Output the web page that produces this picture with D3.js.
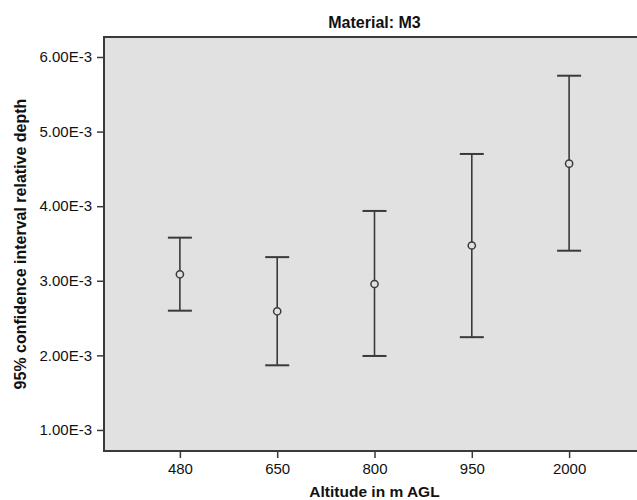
<!DOCTYPE html>
<html>
<head>
<meta charset="utf-8">
<script src="https://cdn.jsdelivr.net/npm/d3@7"></script>
<style>
  body { margin: 0; background: #fff; }
  svg { display: block; font-family: "Liberation Sans", Arial, sans-serif; }
</style>
</head>
<body>
<svg id="chart" width="637" height="500"></svg>
<script>
// Material M3 -- 95% CI of relative depth by altitude

var altitudes = ["480", "650", "800", "950", "2000"];
var means = [3.087e-3, 2.591e-3, 2.957e-3, 3.473e-3, 4.570e-3];
var lower = [2.599e-3, 1.867e-3, 1.992e-3, 2.244e-3, 3.403e-3];
var upper = [3.578e-3, 3.317e-3, 3.936e-3, 4.700e-3, 5.749e-3];
var yTicks = [1e-3, 2e-3, 3e-3, 4e-3, 5e-3, 6e-3];

var svg = d3.select("#chart");
// note: "top" is taken by window.top, so keep the box in one object
var plot = { left: 104, right: 645, top: 37, bottom: 451 };

var x = d3.scalePoint()
  .domain(altitudes)
  .range([plot.left, plot.right])
  .padding(0.78);

var y = d3.scaleLinear()
  .domain([0.718e-3, 6.268e-3])
  .range([plot.bottom, plot.top]);

// plot background
svg.append("rect")
  .attr("x", plot.left)
  .attr("y", plot.top)
  .attr("width", plot.right - plot.left)
  .attr("height", plot.bottom - plot.top)
  .attr("fill", "#e1e1e1")
  .attr("stroke", "#3a3a3a")
  .attr("stroke-width", 2);

// axes
var yAxis = svg.append("g")
  .attr("transform", "translate(" + plot.left + ",0)")
  .call(d3.axisLeft(y).tickValues(yTicks).tickSize(7).tickPadding(5)
    .tickFormat(function (d) { return (d * 1000).toFixed(2) + "E-3"; }));

var xAxis = svg.append("g")
  .attr("transform", "translate(0," + plot.bottom + ")")
  .call(d3.axisBottom(x).tickSize(7).tickPadding(5));

[yAxis, xAxis].forEach(function (g) {
  g.select(".domain").remove();
  g.selectAll(".tick line").attr("stroke", "#3a3a3a").attr("stroke-width", 1.5);
  g.selectAll(".tick text")
    .attr("fill", "#111")
    .style("font-size", "15px")
    .style("font-family", "'Liberation Sans', Arial, sans-serif");
});

// error bars
var bars = svg.append("g")
  .selectAll("g")
  .data(altitudes)
  .join("g");

bars.append("line")
  .attr("x1", function (d) { return x(d); })
  .attr("x2", function (d) { return x(d); })
  .attr("y1", function (d, i) { return y(upper[i]); })
  .attr("y2", function (d, i) { return y(lower[i]); })
  .attr("stroke", "#3a3a3a")
  .attr("stroke-width", 1.6);

[upper, lower].forEach(function (arr) {
  bars.append("line")
    .attr("x1", function (d) { return x(d) - 12; })
    .attr("x2", function (d) { return x(d) + 12; })
    .attr("y1", function (d, i) { return y(arr[i]); })
    .attr("y2", function (d, i) { return y(arr[i]); })
    .attr("stroke", "#3a3a3a")
    .attr("stroke-width", 2);
});

bars.append("circle")
  .attr("cx", function (d) { return x(d); })
  .attr("cy", function (d, i) { return y(means[i]); })
  .attr("r", 3.6)
  .attr("fill", "#e1e1e1")
  .attr("stroke", "#3a3a3a")
  .attr("stroke-width", 1.5);

// titles
var midX = (plot.left + plot.right) / 2;

svg.append("text")
  .attr("x", midX)
  .attr("y", 28)
  .attr("text-anchor", "middle")
  .style("font-size", "16px")
  .style("font-weight", "bold")
  .attr("fill", "#111")
  .text("Material: M3");

svg.append("text")
  .attr("x", midX)
  .attr("y", 497)
  .attr("text-anchor", "middle")
  .style("font-size", "15.5px")
  .style("font-weight", "bold")
  .attr("fill", "#111")
  .text("Altitude in m AGL");

svg.append("text")
  .attr("transform", "translate(26," + ((plot.top + plot.bottom) / 2) + ") rotate(-90)")
  .attr("text-anchor", "middle")
  .style("font-size", "16px")
  .style("font-weight", "bold")
  .attr("fill", "#111")
  .text("95% confidence interval relative depth");
</script>
</body>
</html>
